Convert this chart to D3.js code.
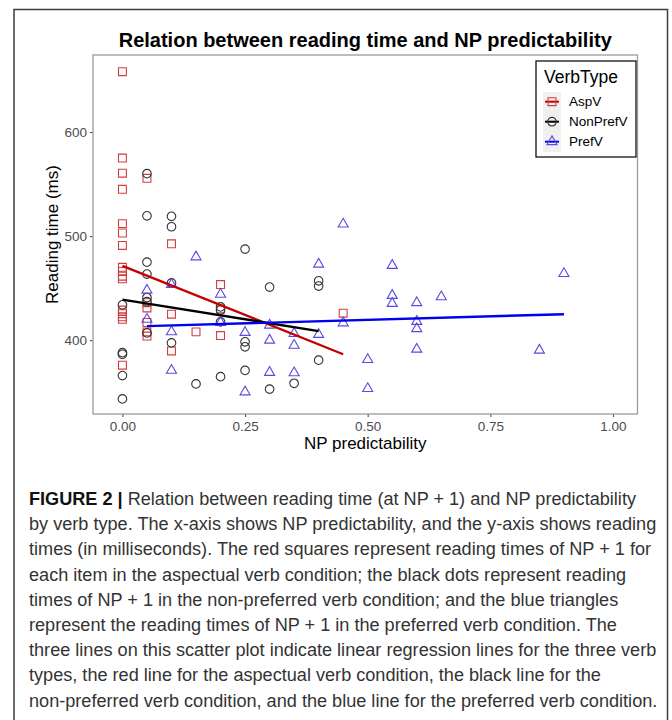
<!DOCTYPE html>
<html>
<head>
<meta charset="utf-8">
<script src="https://cdn.jsdelivr.net/npm/d3@7"></script>
<style>
  html, body { margin: 0; padding: 0; background: #fff; }
  svg text { font-family: "Liberation Sans", Arial, sans-serif; }
</style>
</head>
<body>
<svg id="chart" width="672" height="720"></svg>
<script>
// Valores (x = previsibilidade do SN, y = tempo de leitura em ms)
const aspX = [0, 0, 0, 0, 0, 0, 0, 0, 0, 0, 0, 0, 0, 0, 0, 0,
  0.05, 0.05, 0.05, 0.05, 0.05, 0.05, 0.1, 0.1, 0.1, 0.15, 0.2, 0.2, 0.2, 0.45];
const aspY = [658, 575, 560.5, 545, 512, 503, 491, 470, 466, 461.5, 459, 429, 425.5, 422.5, 420, 376,
  555.5, 436, 431, 417, 408, 404, 492.6, 425, 389.7, 408, 453.5, 430, 404.5, 426];

const nonX = [0, 0, 0, 0, 0, 0.05, 0.05, 0.05, 0.05, 0.05, 0.05, 0.05,
  0.1, 0.1, 0.1, 0.1, 0.15, 0.2, 0.2, 0.2, 0.2, 0.25, 0.25, 0.25, 0.25,
  0.3, 0.3, 0.35, 0.4, 0.4, 0.4];
const nonY = [434, 388, 386.5, 366, 343.6, 560, 519.5, 475, 463.5, 441, 437, 407,
  519, 509, 455, 397.4, 358, 432, 429, 417.6, 365, 487.5, 398.4, 393.6, 371,
  451, 353, 358.6, 457, 452, 380.8];

const prefX = [0.05, 0.05, 0.1, 0.1, 0.1, 0.15, 0.2, 0.2, 0.25, 0.25,
  0.3, 0.3, 0.3, 0.35, 0.35, 0.35, 0.4, 0.4, 0.45, 0.45, 0.5, 0.5,
  0.55, 0.55, 0.55, 0.6, 0.6, 0.6, 0.6, 0.65, 0.85, 0.9];
const prefY = [448, 420, 453.5, 408, 371, 480, 444, 417, 407.4, 350.3,
  414.4, 400, 369, 406.4, 395, 368.6, 473, 405.5, 511.5, 416.6, 381.4, 353.5,
  471.8, 443, 435.3, 436, 418, 411, 391.3, 441.7, 390.4, 464];

// Retas de regressão (extremos)
const aspFitX = [0, 0.45], aspFitY = [471.5, 386.5];
const nonFitX = [0, 0.4], nonFitY = [439, 408.7];
const prefFitX = [0.05, 0.9], prefFitY = [413.5, 425];

const verbTypes = ["AspV", "NonPrefV", "PrefV"];
const xTicks = [0, 0.25, 0.5, 0.75, 1];
const yTicks = [400, 500, 600];

const chartTitle = "Relation between reading time and NP predictability";
const xTitle = "NP predictability";
const yTitle = "Reading time (ms)";
const captionBold = "FIGURE 2 |";
const captionLines = [
  " Relation between reading time (at NP + 1) and NP predictability",
  "by verb type. The x-axis shows NP predictability, and the y-axis shows reading",
  "times (in milliseconds). The red squares represent reading times of NP + 1 for",
  "each item in the aspectual verb condition; the black dots represent reading",
  "times of NP + 1 in the non-preferred verb condition; and the blue triangles",
  "represent the reading times of NP + 1 in the preferred verb condition. The",
  "three lines on this scatter plot indicate linear regression lines for the three verb",
  "types, the red line for the aspectual verb condition, the black line for the",
  "non-preferred verb condition, and the blue line for the preferred verb condition."
];

const series = [
  { name: "AspV", xs: aspX, ys: aspY, fx: aspFitX, fy: aspFitY, shape: d3.symbolSquare, size: 62, point: "#d43d3d", line: "#c40000" },
  { name: "NonPrefV", xs: nonX, ys: nonY, fx: nonFitX, fy: nonFitY, shape: d3.symbolCircle, size: 58, point: "#333333", line: "#000000" },
  { name: "PrefV", xs: prefX, ys: prefY, fx: prefFitX, fy: prefFitY, shape: d3.symbolTriangle, size: 44, point: "#5a4be0", line: "#0000ee" }
];

const svg = d3.select("#chart");

// moldura externa
svg.append("rect")
  .attr("x", 14).attr("y", 9.5).attr("width", 653.5).attr("height", 730)
  .attr("fill", "none").attr("stroke", "#3c3c3c").attr("stroke-width", 1.5);

const panel = { left: 93, right: 637.5, top: 55, bottom: 414 };
const x = d3.scaleLinear().domain([-0.06, 1.05]).range([panel.left, panel.right]);
const y = d3.scaleLinear().domain([329.1, 674]).range([panel.bottom, panel.top]);

// título
svg.append("text")
  .attr("x", (panel.left + panel.right) / 2).attr("y", 47)
  .attr("text-anchor", "middle")
  .attr("font-size", 20).attr("font-weight", "bold")
  .text(chartTitle);

// eixos
const xAxis = svg.append("g")
  .attr("transform", `translate(0,${panel.bottom})`)
  .call(d3.axisBottom(x).tickValues(xTicks).tickFormat(d3.format(".2f")).tickSize(3).tickPadding(4));
const yAxis = svg.append("g")
  .attr("transform", `translate(${panel.left},0)`)
  .call(d3.axisLeft(y).tickValues(yTicks).tickSize(3).tickPadding(3));

[xAxis, yAxis].forEach(a => {
  a.select(".domain").remove();
  a.selectAll(".tick line").attr("stroke", "#4d4d4d").attr("stroke-width", 1.1);
  a.selectAll(".tick text").attr("fill", "#4d4d4d").attr("font-size", 13.5)
    .attr("font-family", "'Liberation Sans', Arial, sans-serif");
});

svg.append("rect")
  .attr("x", panel.left).attr("y", panel.top)
  .attr("width", panel.right - panel.left).attr("height", panel.bottom - panel.top)
  .attr("fill", "none").attr("stroke", "#9a9a9a").attr("stroke-width", 1.3);

svg.append("text")
  .attr("x", (panel.left + panel.right) / 2).attr("y", 449)
  .attr("text-anchor", "middle").attr("font-size", 17)
  .text(xTitle);

svg.append("text")
  .attr("transform", `translate(58,${(panel.top + panel.bottom) / 2}) rotate(-90)`)
  .attr("text-anchor", "middle").attr("font-size", 17)
  .text(yTitle);

// pontos
const plot = svg.append("g");
series.forEach(s => {
  plot.append("g").selectAll("path")
    .data(s.xs.map((v, i) => [v, s.ys[i]]))
    .join("path")
    .attr("d", d3.symbol().type(s.shape).size(s.size))
    .attr("transform", d => `translate(${x(d[0])},${y(d[1])})`)
    .attr("fill", "none")
    .attr("stroke", s.point)
    .attr("stroke-width", 1.1);
});

// retas de regressão
const line = d3.line().x(d => x(d[0])).y(d => y(d[1]));
series.forEach(s => {
  plot.append("path")
    .datum(s.fx.map((v, i) => [v, s.fy[i]]))
    .attr("fill", "none")
    .attr("stroke", s.line)
    .attr("stroke-width", 2.4)
    .attr("d", line);
});

// legenda
const legend = svg.append("g");
legend.append("rect")
  .attr("x", 536).attr("y", 61).attr("width", 100).attr("height", 96)
  .attr("fill", "#fff").attr("stroke", "#111").attr("stroke-width", 1.3);
legend.append("text")
  .attr("x", 544).attr("y", 83).attr("font-size", 17.5)
  .text("VerbType");
legend.append("rect")
  .attr("x", 543).attr("y", 92).attr("width", 18).attr("height", 60)
  .attr("fill", "#f0f0f0");

const rows = legend.selectAll("g.row")
  .data(series)
  .join("g")
  .attr("class", "row")
  .attr("transform", (d, i) => `translate(552,${101.7 + i * 20})`);
rows.append("line")
  .attr("x1", -7).attr("x2", 7)
  .attr("stroke", d => d.line).attr("stroke-width", 2);
rows.append("path")
  .attr("d", d => d3.symbol().type(d.shape).size(d.size)())
  .attr("fill", "none").attr("stroke", d => d.point).attr("stroke-width", 1.1);
rows.append("text")
  .attr("x", 17).attr("y", 4.5).attr("font-size", 13.5)
  .text((d, i) => verbTypes[i]);

// legenda da figura (texto abaixo)
const cap = svg.append("g").attr("fill", "#333");
const capText = cap.selectAll("text")
  .data(captionLines)
  .join("text")
  .attr("x", 29)
  .attr("y", (d, i) => 505 + i * 25.2)
  .attr("font-size", 18.5);
capText.each(function (d, i) {
  const t = d3.select(this);
  if (i === 0) {
    t.append("tspan").attr("font-weight", "bold").attr("fill", "#111").text(captionBold);
  }
  t.append("tspan").text(d);
});
// ajusta a largura da linha mais longa ao original (~628px)
const widest = capText.nodes()[1].getComputedTextLength();
const sx = 628 / widest;
capText.attr("transform", (d, i) => `translate(${29 * (1 - sx)},0) scale(${sx},1)`);
</script>
</body>
</html>
